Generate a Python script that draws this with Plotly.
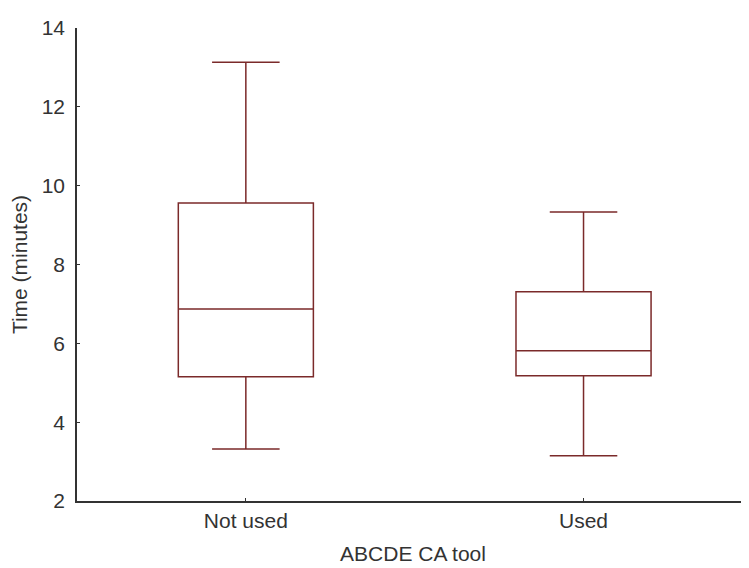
import plotly.graph_objects as go

categories = ["Not used", "Used"]
lower_whisker = [3.32, 3.15]
q1_values = [5.15, 5.18]
median_values = [6.87, 5.81]
q3_values = [9.56, 7.31]
upper_whisker = [13.13, 9.33]
y_ticks = [2, 4, 6, 8, 10, 12, 14]

box_color = "#7b2a2a"
font_family = "Liberation Sans, Arial, sans-serif"

fig = go.Figure()
fig.add_trace(go.Box(
    x=categories,
    q1=q1_values,
    median=median_values,
    q3=q3_values,
    lowerfence=lower_whisker,
    upperfence=upper_whisker,
    boxpoints=False,
    width=0.4,
    whiskerwidth=0.5,
    line=dict(color=box_color, width=1.5),
    fillcolor="rgba(255,255,255,0)",
    showlegend=False,
))

fig.update_layout(
    width=741, height=560,
    margin=dict(l=69, r=0, t=20, b=67),
    paper_bgcolor="white", plot_bgcolor="white",
    font=dict(family=font_family, size=21, color="#333333"),
    xaxis=dict(
        type="category",
        range=[-0.5, 1.49],
        showline=True, linecolor="#333333", linewidth=1.5,
        ticks="inside", ticklen=3, tickcolor="#333333",
        showgrid=False, zeroline=False,
        title=dict(text="ABCDE CA tool", standoff=15, font=dict(size=21)),
        tickfont=dict(size=21),
        automargin=False,
    ),
    yaxis=dict(
        range=[2, 14],
        tickvals=y_ticks,
        showline=True, linecolor="#333333", linewidth=1.5,
        ticks="inside", ticklen=3, tickcolor="#333333",
        showgrid=False, zeroline=False,
        title=dict(text="Time (minutes)", standoff=10, font=dict(size=21)),
        tickfont=dict(size=21),
        ticklabelstandoff=6,
        automargin=False,
    ),
)

fig.write_html("out.html")
